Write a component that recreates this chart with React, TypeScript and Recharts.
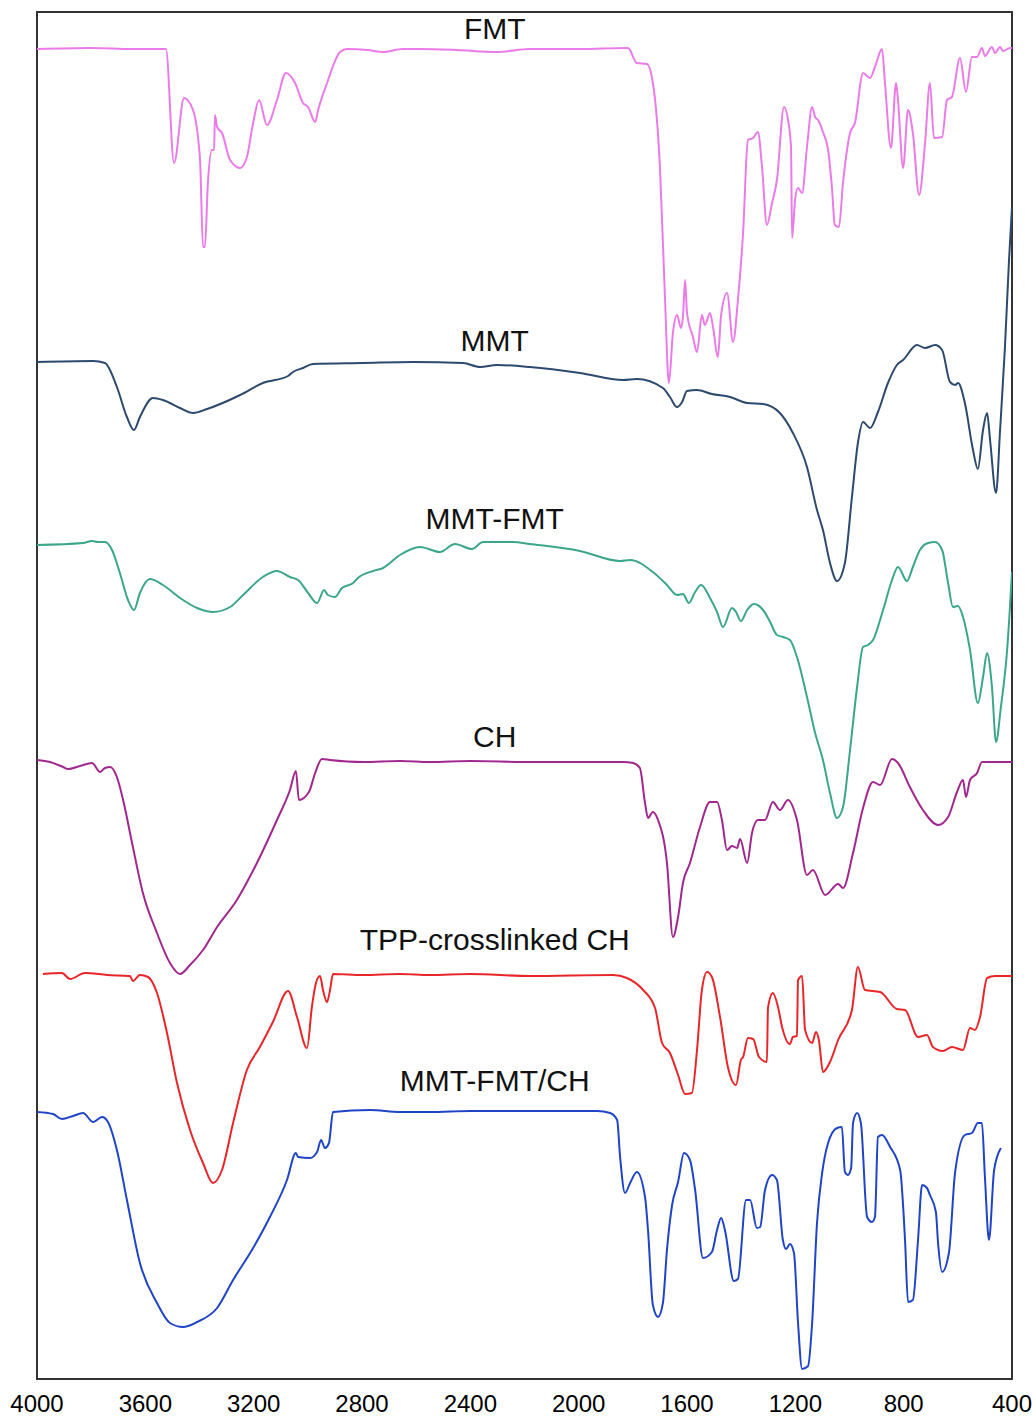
import React from "react";
import { LineChart, Line, XAxis, YAxis, ReferenceArea, ReferenceDot } from "recharts";

// FTIR spectra, stacked with vertical offsets. Each point: [wavenumber (cm-1), offset transmittance (a.u.)]
const fmt: [number, number][] = [
  [4000, 1330], [3800, 1331], [3650, 1330], [3524, 1330], [3494, 1216], [3457, 1281], [3424, 1269],
  [3398, 1219], [3387, 1132], [3380, 1132], [3369, 1196], [3354, 1229], [3346, 1229], [3343, 1264],
  [3335, 1252], [3317, 1246], [3287, 1219], [3250, 1211], [3225, 1222], [3202, 1256], [3180, 1279],
  [3151, 1254], [3114, 1279], [3081, 1306], [3047, 1296], [3018, 1276], [2999, 1272], [2973, 1257],
  [2962, 1269], [2929, 1296], [2881, 1327], [2855, 1330], [2780, 1329], [2722, 1327], [2650, 1330],
  [2586, 1330], [2450, 1329], [2302, 1327], [2180, 1330], [2000, 1330], [1818, 1331], [1785, 1316],
  [1748, 1315], [1726, 1296], [1700, 1212], [1681, 1079], [1667, 996], [1652, 1046], [1637, 1064],
  [1622, 1051], [1615, 1062], [1607, 1099], [1600, 1066], [1578, 1042], [1563, 1027], [1545, 1064],
  [1534, 1054], [1515, 1066], [1504, 1052], [1486, 1022], [1474, 1064], [1452, 1086], [1430, 1037],
  [1412, 1079], [1393, 1146], [1375, 1239], [1356, 1241], [1338, 1247], [1323, 1212], [1305, 1154],
  [1286, 1176], [1268, 1199], [1242, 1272], [1227, 1259], [1216, 1232], [1212, 1141], [1201, 1179],
  [1190, 1191], [1175, 1186], [1157, 1232], [1138, 1272], [1127, 1262], [1116, 1259], [1098, 1247],
  [1079, 1229], [1065, 1192], [1054, 1154], [1039, 1152], [1024, 1196], [998, 1246], [980, 1256],
  [950, 1306], [924, 1301], [906, 1312], [880, 1330], [869, 1296], [847, 1231], [828, 1296],
  [821, 1279], [802, 1211], [784, 1269], [766, 1246], [743, 1184], [721, 1236], [703, 1296],
  [688, 1241], [658, 1242], [640, 1279], [622, 1282], [592, 1321], [570, 1287], [548, 1322],
  [529, 1322], [511, 1331], [500, 1323], [474, 1332], [463, 1326], [444, 1332], [433, 1328],
  [407, 1331], [400, 1331],
];

const mmt: [number, number][] = [
  [4000, 1017], [3793, 1018], [3749, 1016], [3705, 992], [3668, 962], [3642, 949], [3620, 962],
  [3572, 981], [3535, 979], [3472, 971], [3424, 966], [3372, 970], [3250, 984], [3166, 996],
  [3073, 1003], [3055, 1007], [3018, 1011], [2981, 1015], [2796, 1016], [2612, 1017], [2427, 1016],
  [2364, 1012], [2302, 1014], [2180, 1012], [1995, 1006], [1836, 999], [1785, 1000], [1689, 991],
  [1663, 982], [1637, 972], [1618, 977], [1600, 988], [1563, 989], [1508, 985], [1441, 982],
  [1378, 976], [1319, 975], [1257, 966], [1209, 946], [1157, 912], [1120, 869], [1098, 849],
  [1072, 816], [1046, 798], [1017, 816], [991, 882], [969, 936], [950, 957], [924, 951],
  [895, 967], [858, 996], [825, 1014], [802, 1019], [751, 1034], [721, 1031], [684, 1034],
  [658, 1029], [629, 997], [610, 994], [599, 996], [574, 976], [544, 929], [526, 910],
  [507, 949], [492, 966], [481, 939], [459, 886], [444, 949], [426, 1032], [411, 1119], [400, 1172],
];

const mmtFmt: [number, number][] = [
  [4000, 834], [3830, 836], [3797, 838], [3775, 837], [3749, 837], [3723, 829], [3694, 806],
  [3664, 779], [3642, 769], [3620, 786], [3583, 800], [3535, 794], [3472, 781], [3409, 771],
  [3350, 767], [3287, 772], [3239, 784], [3166, 802], [3114, 808], [3066, 802], [3036, 799],
  [2999, 786], [2966, 776], [2940, 789], [2926, 784], [2900, 782], [2874, 791], [2833, 796],
  [2815, 801], [2759, 808], [2722, 811], [2660, 824], [2586, 832], [2512, 827], [2457, 835],
  [2394, 830], [2353, 837], [2242, 837], [2180, 835], [1995, 828], [1847, 818], [1810, 819],
  [1726, 807], [1674, 794], [1637, 784], [1615, 785], [1593, 776], [1570, 787], [1548, 794],
  [1515, 781], [1489, 767], [1467, 752], [1434, 771], [1419, 767], [1401, 758], [1378, 769],
  [1353, 775], [1319, 769], [1293, 757], [1268, 744], [1246, 742], [1220, 739], [1194, 722],
  [1157, 682], [1127, 646], [1098, 619], [1072, 586], [1046, 561], [1024, 572], [998, 629],
  [972, 692], [950, 732], [932, 734], [913, 739], [876, 769], [843, 799], [821, 812],
  [788, 798], [766, 812], [740, 829], [710, 836], [684, 837], [658, 829], [636, 796],
  [618, 772], [599, 773], [581, 762], [555, 729], [526, 676], [507, 702], [492, 726],
  [474, 692], [459, 637], [441, 672], [418, 729], [400, 807],
];

const ch: [number, number][] = [
  [4000, 619], [3952, 617], [3904, 612], [3886, 610], [3841, 613], [3797, 616], [3767, 607],
  [3749, 611], [3730, 612], [3705, 602], [3682, 579], [3649, 536], [3609, 486], [3557, 446],
  [3509, 416], [3472, 405], [3435, 414], [3387, 429], [3335, 452], [3262, 479], [3188, 516],
  [3114, 559], [3066, 589], [3044, 608], [3033, 579], [2996, 587], [2973, 606], [2948, 620],
  [2918, 619], [2796, 617], [2660, 618], [2549, 617], [2400, 618], [2180, 617], [1836, 617],
  [1799, 616], [1774, 611], [1755, 576], [1744, 561], [1726, 567], [1707, 559], [1674, 516],
  [1652, 442], [1633, 462], [1615, 496], [1589, 516], [1552, 552], [1515, 577], [1489, 577],
  [1471, 559], [1452, 529], [1434, 533], [1415, 531], [1404, 540], [1378, 516], [1360, 546],
  [1338, 559], [1312, 559], [1283, 577], [1257, 569], [1227, 579], [1194, 559], [1157, 504],
  [1135, 509], [1090, 484], [1042, 495], [1024, 491], [987, 526], [950, 571], [913, 597],
  [887, 594], [843, 620], [821, 616], [777, 592], [729, 569], [673, 554], [636, 562],
  [603, 587], [581, 599], [570, 582], [555, 599], [529, 606], [511, 617], [400, 617],
];

const tppCh: [number, number][] = [
  [3978, 405], [3908, 406], [3878, 400], [3823, 406], [3740, 404], [3657, 403], [3646, 398],
  [3620, 404], [3590, 402], [3557, 386], [3520, 346], [3483, 296], [3435, 249], [3387, 216],
  [3350, 196], [3317, 209], [3276, 256], [3225, 309], [3177, 332], [3129, 357], [3073, 388],
  [3040, 362], [3003, 331], [2985, 372], [2970, 396], [2955, 403], [2944, 389], [2929, 377],
  [2918, 389], [2907, 405], [2796, 404], [2660, 405], [2549, 404], [2400, 405], [2180, 403],
  [1873, 404], [1822, 401], [1762, 389], [1718, 371], [1692, 336], [1663, 326], [1633, 304],
  [1607, 285], [1582, 286], [1563, 329], [1545, 389], [1526, 407], [1508, 402], [1478, 362],
  [1449, 312], [1419, 294], [1401, 319], [1393, 322], [1375, 341], [1356, 340], [1334, 322],
  [1305, 317], [1301, 371], [1283, 386], [1264, 372], [1249, 352], [1220, 335], [1209, 342],
  [1194, 343], [1190, 399], [1175, 403], [1164, 349], [1138, 336], [1124, 347], [1113, 339],
  [1098, 307], [1072, 317], [1042, 339], [991, 369], [969, 412], [943, 389], [887, 387],
  [825, 370], [795, 369], [747, 342], [714, 344], [692, 332], [655, 328], [622, 332],
  [581, 329], [555, 351], [537, 349], [518, 362], [492, 401], [463, 403], [400, 403],
];

const mmtFmtCh: [number, number][] = [
  [4000, 267], [3941, 265], [3908, 260], [3867, 263], [3830, 266], [3793, 257], [3760, 262],
  [3738, 257], [3705, 229], [3668, 179], [3620, 116], [3557, 76], [3509, 56], [3461, 52],
  [3409, 57], [3335, 71], [3276, 99], [3202, 131], [3140, 162], [3077, 199], [3044, 226],
  [3036, 222], [2992, 221], [2966, 227], [2951, 239], [2937, 231], [2922, 236], [2907, 267],
  [2770, 269], [2660, 267], [2549, 267], [2400, 268], [2180, 268], [1932, 268], [1884, 266],
  [1858, 259], [1847, 222], [1829, 186], [1810, 196], [1785, 207], [1755, 182], [1744, 149],
  [1726, 74], [1707, 62], [1689, 76], [1674, 129], [1655, 174], [1633, 197], [1611, 226],
  [1589, 219], [1570, 189], [1541, 121], [1508, 127], [1489, 149], [1474, 161], [1460, 149],
  [1427, 98], [1412, 100], [1382, 179], [1367, 179], [1342, 151], [1330, 152], [1312, 189],
  [1286, 204], [1268, 199], [1246, 139], [1234, 130], [1220, 135], [1205, 126], [1190, 56],
  [1175, 10], [1153, 13], [1138, 56], [1120, 156], [1101, 206], [1079, 236], [1046, 251],
  [1028, 252], [1017, 207], [1006, 204], [994, 211], [987, 256], [972, 266], [958, 256],
  [935, 162], [917, 157], [906, 162], [895, 242], [880, 244], [850, 232], [813, 209],
  [795, 139], [784, 77], [766, 79], [747, 139], [732, 194], [714, 191], [703, 184],
  [681, 167], [673, 136], [658, 107], [633, 126], [610, 207], [574, 244], [548, 246],
  [526, 256], [511, 256], [500, 202], [485, 139], [466, 209], [441, 231],
];

const xTicks = [4000, 3600, 3200, 2800, 2400, 2000, 1600, 1200, 800, 400];

// sample names, line colours, points, and where each name sits (wavenumber, offset)
const seriesNames = ["FMT", "MMT", "MMT-FMT", "CH", "TPP-crosslinked CH", "MMT-FMT/CH"];
const seriesColors = ["#ea7be9", "#2c4a6d", "#3ba68b", "#a1278f", "#e8262a", "#1f45c6"];
const seriesPoints = [fmt, mmt, mmtFmt, ch, tppCh, mmtFmtCh];
const labelAt: [number, number][] = [
  [2310, 1351], [2310, 1039], [2310, 861], [2310, 643], [2310, 440], [2310, 299],
];

const FONT = "'Liberation Sans', Arial, Helvetica, sans-serif";

const toRows = (pts: [number, number][]) => pts.map(([wn, t]) => ({ wn, t }));

export default function App() {
  return (
    <div style={{ position: "absolute", left: 0, top: 0, width: 1033, height: 1416, background: "#fff" }}>
      <LineChart
        width={1033}
        height={1416}
        margin={{ top: 12, right: 21, bottom: 7, left: 37 }}
        style={{ overflow: "visible" }}
      >
        <XAxis
          dataKey="wn"
          type="number"
          domain={[400, 4000]}
          reversed
          ticks={xTicks}
          allowDataOverflow
          height={30}
          tickLine={false}
          tickSize={0}
          tickMargin={16}
          axisLine={{ stroke: "#333", strokeWidth: 2 }}
          tick={{ fontSize: 24, fill: "#000", fontFamily: FONT }}
          interval={0}
        />
        <YAxis type="number" domain={[0, 1367]} hide allowDataOverflow />
        <ReferenceArea
          x1={4000}
          x2={400}
          y1={0}
          y2={1367}
          fill="none"
          stroke="#333"
          strokeWidth={2}
          ifOverflow="visible"
        />
        {seriesPoints.map((pts, i) => (
          <Line
            key={seriesNames[i]}
            data={toRows(pts)}
            dataKey="t"
            name={seriesNames[i]}
            type="monotone"
            stroke={seriesColors[i]}
            strokeWidth={2}
            dot={false}
            activeDot={false}
            isAnimationActive={false}
          />
        ))}
        {seriesNames.map((name, i) => (
          <ReferenceDot
            key={"lbl-" + name}
            x={labelAt[i][0]}
            y={labelAt[i][1]}
            r={0}
            fill="none"
            stroke="none"
            label={{ value: name, position: "center", fontSize: 30, fill: "#111", fontFamily: FONT }}
          />
        ))}
      </LineChart>
    </div>
  );
}
